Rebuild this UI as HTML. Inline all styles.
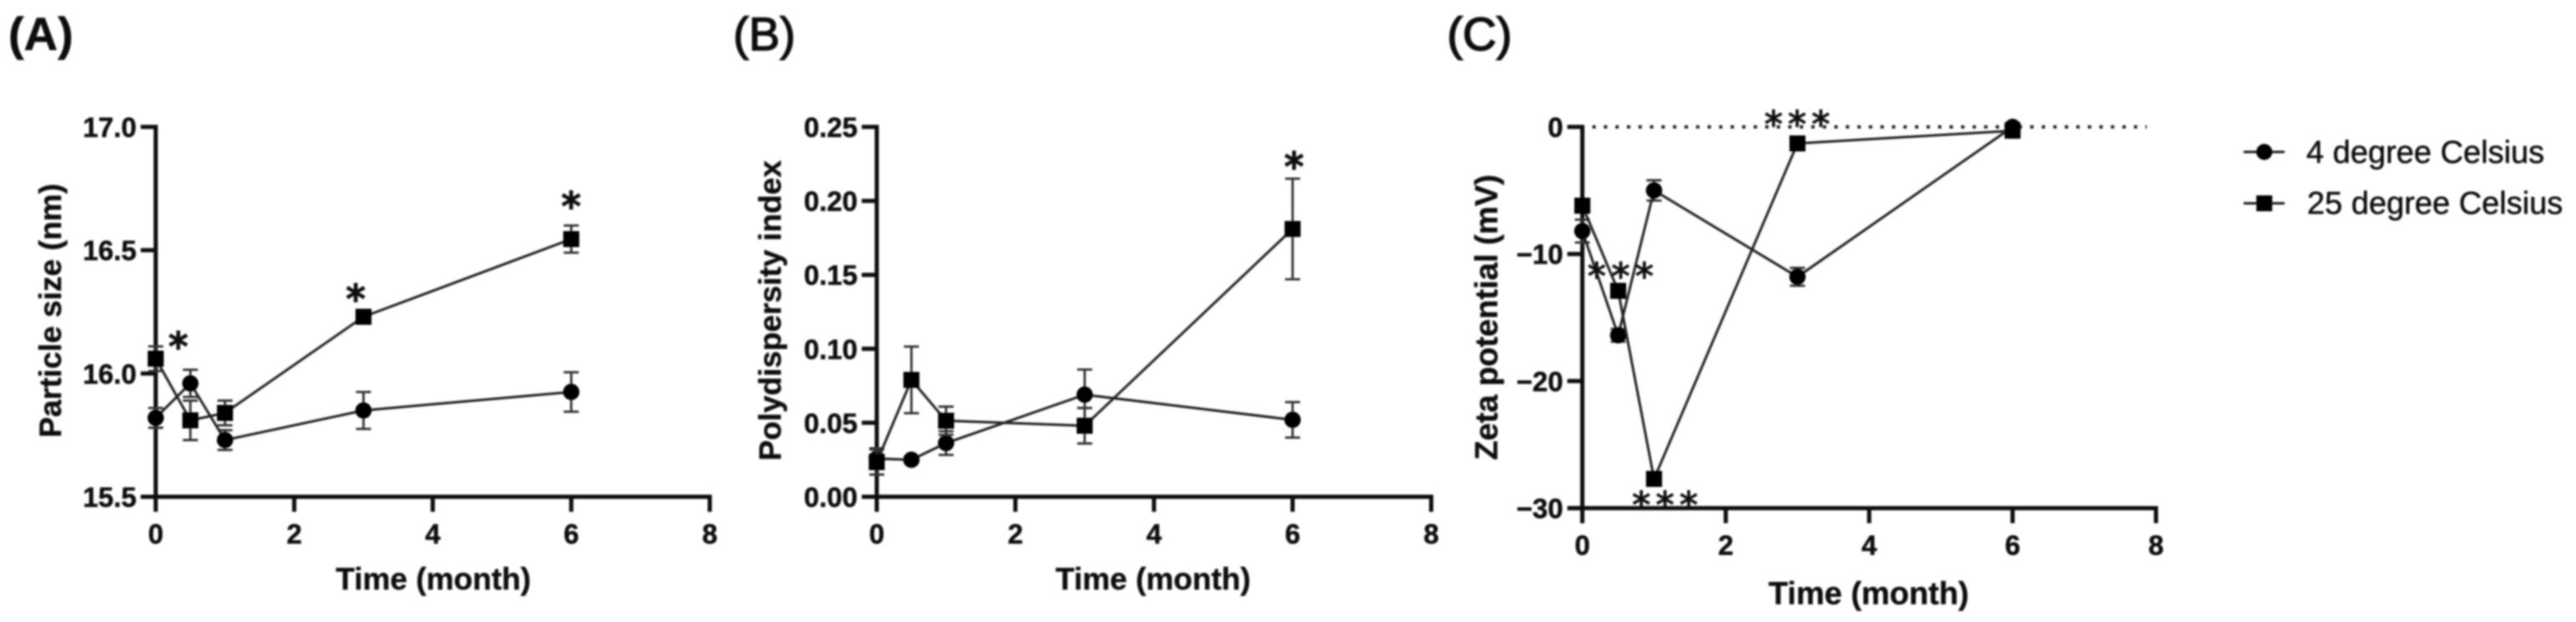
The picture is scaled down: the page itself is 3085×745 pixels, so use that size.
<!DOCTYPE html>
<html lang="en">
<head>
<meta charset="utf-8">
<title>Nanoparticle stability over time</title>
<style>
html,body{margin:0;padding:0;background:#fff;width:3085px;height:745px;overflow:hidden}
svg{display:block}
text{fill:#0a0a0a}
.tick{font:bold 33px "Liberation Sans",sans-serif;stroke:#0a0a0a;stroke-width:.5px}
.title{font-family:"Liberation Sans",sans-serif;font-weight:bold;stroke:#0a0a0a;stroke-width:.4px}
.star{font-family:"DejaVu Sans",sans-serif;text-anchor:middle;stroke:#0a0a0a}
.legend-text{font:38px "Liberation Sans",sans-serif;stroke:#0a0a0a;stroke-width:.5px}
</style>
</head>
<body>
<svg id="figure" xmlns="http://www.w3.org/2000/svg" width="3085" height="745" viewBox="0 0 3085 745">
<defs><filter id="soft" filterUnits="userSpaceOnUse" x="0" y="0" width="3085" height="745"><feGaussianBlur stdDeviation="0.95"/></filter></defs>
<rect width="3085" height="745" fill="#fff"/>
<g id="root" filter="url(#soft)">
<g>
<g>
<line x1="2687" x2="2736" y1="182" y2="182" stroke="#222" stroke-width="3"/>
<circle cx="2711.7" cy="182" r="9.6" fill="#000"/>
<text class="legend-text" x="2762" y="195">4 degree Celsius</text>
</g>
<g>
<line x1="2687" x2="2736" y1="243.5" y2="243.5" stroke="#222" stroke-width="3"/>
<rect x="2702.2" y="234" width="19" height="19" fill="#000"/>
<text class="legend-text" x="2763" y="256">25 degree Celsius</text>
</g>
</g>
</g>
</svg>
<script>
// Shared x values and ticks
const timeMonths = [0, 0.5, 1, 3, 6];
const xTicks = [0, 2, 4, 6, 8];

// Panel A: particle size (nm)
const sizeTicks = [15.5, 16.0, 16.5, 17.0];
const sizeTickLabels = ['15.5', '16.0', '16.5', '17.0'];
const size4C = [15.82, 15.96, 15.73, 15.85, 15.925];
const size4CErr = [0.04, 0.055, 0.04, 0.075, 0.08];
const size25C = [16.06, 15.81, 15.84, 16.23, 16.545];
const size25CErr = [0.05, 0.08, 0.05, 0.02, 0.055];

// Panel B: polydispersity index
const pdiTicks = [0, 0.05, 0.10, 0.15, 0.20, 0.25];
const pdiTickLabels = ['0.00', '0.05', '0.10', '0.15', '0.20', '0.25'];
const pdi4C = [0.0258, 0.025, 0.0363, 0.069, 0.052];
const pdi4CErr = [0.007, 0.002, 0.008, 0.017, 0.012];
const pdi25C = [0.0235, 0.079, 0.0514, 0.048, 0.181];
const pdi25CErr = [0.0085, 0.0225, 0.0095, 0.012, 0.034];

// Panel C: zeta potential (mV)
const zetaTicks = [-30, -20, -10, 0];
const zetaTickLabels = ['\u221230', '\u221220', '\u221210', '0'];
const zeta4C = [-8.2, -16.4, -5.0, -11.8, 0];
const zeta4CErr = [0.9, 0.5, 0.8, 0.7, 0.3];
const zeta25C = [-6.2, -12.9, -27.7, -1.3, -0.3];
const zeta25CErr = [0.3, 0.3, 0.3, 0.3, 0.3];

const SVGNS = 'http://www.w3.org/2000/svg';
const root = document.getElementById('root');

function make(parent, tag, name, attrs, text) {
  const el = document.createElementNS(SVGNS, tag);
  
  
  for (const k in attrs) el.setAttribute(k, attrs[k]);
  if (text !== undefined) el.textContent = text;
  parent.appendChild(el);
  return el;
}
function line(parent, name, x1, y1, x2, y2, stroke, width) {
  return make(parent, 'line', name, {x1: x1, y1: y1, x2: x2, y2: y2, stroke: stroke, 'stroke-width': width});
}

function drawPanel(p) {
  const x = v => p.x0 + (v - xTicks[0]) / (xTicks[xTicks.length - 1] - xTicks[0]) * (p.x8 - p.x0);
  const yLo = p.yTicks[0], yHi = p.yTicks[p.yTicks.length - 1];
  const y = v => p.yBottom + (v - yLo) / (yHi - yLo) * (p.yTop - p.yBottom);
  const g = make(root, 'g', p.id, {});

  // panel letter
  make(g, 'text', p.id + '-letter', {x: p.letterX, y: 60, stroke: '#0a0a0a', 'stroke-width': p.letterStroke, style: 'font:' + p.letterWeight + ' 56px "Liberation Sans",sans-serif'}, p.letter);

  // axes
  const axisColor = '#0c0c0c';
  line(g, p.id + '-y-axis', p.x0, p.yTop - 2.5, p.x0, p.yBottom + 18, axisColor, 5);
  line(g, p.id + '-x-axis', p.x0 - 18, p.yBottom, p.x8 + 2.5, p.yBottom, axisColor, 5);
  p.yTicks.forEach((t, i) => {
    line(g, p.id + '-y-tick', p.x0 - 18, y(t), p.x0, y(t), axisColor, 5);
    make(g, 'text', p.id + '-y-tick-label', {class: 'tick', x: p.x0 - 23, y: y(t) + 12, 'text-anchor': 'end'}, p.yLabels[i]);
  });
  xTicks.forEach(t => {
    line(g, p.id + '-x-tick', x(t), p.yBottom, x(t), p.yBottom + 18, axisColor, 5);
    make(g, 'text', p.id + '-x-tick-label', {class: 'tick', x: x(t), y: p.yBottom + 56, 'text-anchor': 'middle'}, String(t));
  });

  // titles
  make(g, 'text', p.id + '-x-axis-title', {class: 'title', 'font-size': p.titleSize, x: p.xTitleX, y: p.yBottom + p.xTitleGap, 'text-anchor': 'middle'}, 'Time (month)');
  make(g, 'text', p.id + '-y-axis-title', {class: 'title', 'font-size': p.titleSize, transform: 'translate(' + p.yTitleX + ',' + p.yTitleY + ') rotate(-90)', 'text-anchor': 'middle'}, p.yTitle);

  // zero reference line
  if (p.zeroLine) {
    make(g, 'line', p.id + '-zero-reference-line', {x1: p.x0 + 12, x2: p.x8 - 11, y1: y(0), y2: y(0), stroke: '#222', 'stroke-width': 4, 'stroke-dasharray': '4 9.8'});
  }

  // series
  [[p.a, p.aErr, 'circle'], [p.b, p.bErr, 'square']].forEach(s => {
    const vals = s[0], errs = s[1], kind = s[2];
    const sg = make(g, 'g', p.id + '-series-' + kind, {});
    vals.forEach((v, i) => {
      line(sg, p.id + '-error-bar-' + kind, x(timeMonths[i]), y(v - errs[i]), x(timeMonths[i]), y(v + errs[i]), '#333', 2.8);
      line(sg, p.id + '-error-cap-top-' + kind, x(timeMonths[i]) - 9, y(v + errs[i]), x(timeMonths[i]) + 9, y(v + errs[i]), '#333', 2.8);
      line(sg, p.id + '-error-cap-bottom-' + kind, x(timeMonths[i]) - 9, y(v - errs[i]), x(timeMonths[i]) + 9, y(v - errs[i]), '#333', 2.8);
    });
    make(sg, 'polyline', p.id + '-line-' + kind, {
      points: vals.map((v, i) => x(timeMonths[i]) + ',' + y(v)).join(' '),
      fill: 'none', stroke: '#222', 'stroke-width': 3
    });
    vals.forEach((v, i) => {
      if (kind === 'circle') {
        make(sg, 'circle', p.id + '-point-circle', {cx: x(timeMonths[i]), cy: y(v), r: 9.8, fill: '#000'});
      } else {
        make(sg, 'rect', p.id + '-point-square', {x: x(timeMonths[i]) - 9.6, y: y(v) - 9.6, width: 19.2, height: 19.2, fill: '#000'});
      }
    });
  });

  // significance stars
  p.stars.forEach(s => {
    make(g, 'text', p.id + '-significance-star', {class: 'star', x: s[0], y: s[1] + 0.51 * p.starSize, 'font-size': p.starSize, 'stroke-width': p.starStroke}, s[2]);
  });
}

drawPanel({
  id: 'panel-a', letter: '(A)', letterX: 10, letterWeight: 'bold', letterStroke: 0.5,
  x0: 186.5, x8: 850, yTop: 152, yBottom: 595, titleSize: 37, xTitleGap: 111,
  yTicks: sizeTicks, yLabels: sizeTickLabels,
  yTitle: 'Particle size (nm)', yTitleX: 73, yTitleY: 372, xTitleX: 519,
  a: size4C, aErr: size4CErr, b: size25C, bErr: size25CErr,
  starSize: 46, starStroke: 2, stars: [[213.5, 408, '*'], [426, 351, '*'], [684, 240, '*']]
});
drawPanel({
  id: 'panel-b', letter: '(B)', letterX: 878, letterWeight: 'normal', letterStroke: 1.4,
  x0: 1050, x8: 1714, yTop: 152, yBottom: 595, titleSize: 37, xTitleGap: 111,
  yTicks: pdiTicks, yLabels: pdiTickLabels,
  yTitle: 'Polydispersity index', yTitleX: 935, yTitleY: 372, xTitleX: 1381,
  a: pdi4C, aErr: pdi4CErr, b: pdi25C, bErr: pdi25CErr,
  starSize: 46, starStroke: 2, stars: [[1549.7, 192.5, '*']]
});
drawPanel({
  id: 'panel-c', letter: '(C)', letterX: 1733, letterWeight: 'normal', letterStroke: 1.6,
  x0: 1895, x8: 2582, yTop: 152, yBottom: 608.6, zeroLine: true, titleSize: 38, xTitleGap: 115,
  yTicks: zetaTicks, yLabels: zetaTickLabels,
  yTitle: 'Zeta potential (mV)', yTitleX: 1793, yTitleY: 380, xTitleX: 2238,
  a: zeta4C, aErr: zeta4CErr, b: zeta25C, bErr: zeta25CErr,
  starSize: 44, starStroke: 1.2, stars: [
    [1912.3, 323.5, '*'], [1941, 323.5, '*'], [1969.3, 323.5, '*'],
    [2124, 141.7, '*'], [2152.3, 141.7, '*'], [2180.6, 141.7, '*'],
    [1965.6, 597.6, '*'], [1994, 597.6, '*'], [2022.4, 597.6, '*']
  ]
});
</script>
</body>
</html>
